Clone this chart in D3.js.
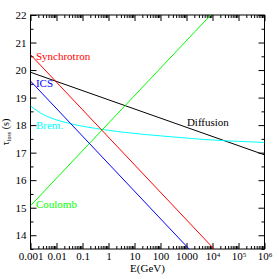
<!DOCTYPE html>
<html><head><meta charset="utf-8">
<script src="https://cdn.jsdelivr.net/npm/d3@7"></script>
<style>body{margin:0;background:#fff}svg{display:block}svg text{font-family:'Liberation Serif',serif}</style>
</head><body>
<script>
// Energy in GeV, tau_loss in log10(s)
const synchE = [0.001, 1e6];
const synchT = [20.56, 11.56];
const icsE = [0.001, 1e6];
const icsT = [19.60, 10.60];
const coulE = [0.001, 1e6];
const coulT = [15.07, 24.07];
const diffE = [0.001, 1e6];
const diffT = [19.92, 16.92];
const bremE = [1e-3, 3.16e-3, 1e-2, 3.16e-2, 1e-1, 3.16e-1, 1, 3.16, 10, 31.6, 100, 316, 1e3, 3.16e3, 1e4, 3.16e4, 1e5, 3.16e5, 1e6];
const bremT = [18.70, 18.38, 18.19, 18.06, 17.96, 17.88, 17.81, 17.75, 17.70, 17.65, 17.61, 17.57, 17.53, 17.49, 17.46, 17.43, 17.41, 17.39, 17.37];
const xTicks = [0.001, 0.01, 0.1, 1, 10, 100, 1000, 1e4, 1e5, 1e6];
const xTickLabels = ["0.001", "0.01", "0.1", "1", "10", "100", "1000", "10^4", "10^5", "10^6"];
const yTicks = [14, 15, 16, 17, 18, 19, 20, 21, 22];
const labels = [
  {text: "Synchrotron", E: 0.00162, t: 20.36, color: "#ff0000"},
  {text: "ICS", E: 0.00162, t: 19.38, color: "#0000ff"},
  {text: "Brem.", E: 0.00162, t: 17.855, color: "#00ffff"},
  {text: "Coulomb", E: 0.00162, t: 14.98, color: "#00ff00"},
  {text: "Diffusion", E: 1035, t: 17.96, color: "#000000"}
];

const W = 279, H = 279;
const L = 30.5, R = 264.5, T = 15, B = 249;
const svg = d3.select("body").append("svg").attr("width", W).attr("height", H);
const x = d3.scaleLog().domain([0.001, 1e6]).range([L, R]);
const y = d3.scaleLinear().domain([13.5, 22]).range([B, T]);
const font = "'Liberation Serif', serif";

svg.append("defs").append("clipPath").attr("id", "clip")
  .append("rect").attr("x", L).attr("y", T).attr("width", R - L).attr("height", B - T);

const minorX = [];
for (let d = -3; d < 6; d++) for (let k = 2; k <= 9; k++) minorX.push(k * Math.pow(10, d));
const minorY = d3.range(13.5, 22.01, 0.5).filter(v => !yTicks.includes(v));

function styleAxis(g) {
  g.select(".domain").remove();
  g.selectAll("line").attr("stroke", "#000").attr("stroke-width", 1);
  g.selectAll("text").attr("font-family", font).attr("font-size", 11).attr("fill", "#000");
}

// bottom axis
const gb = svg.append("g").attr("transform", `translate(0,${B})`)
  .call(d3.axisBottom(x).tickValues(xTicks).tickSizeInner(-6).tickSizeOuter(0).tickPadding(3)
    .tickFormat((d, i) => xTickLabels[i]));
styleAxis(gb);
gb.selectAll(".tick text").each(function(d, i) {
  const s = xTickLabels[i];
  if (s.includes("^")) {
    const [b, e] = s.split("^");
    const t = d3.select(this).text(null);
    t.append("tspan").text(b);
    t.append("tspan").attr("font-size", 7).attr("dy", "-0.45em").text(e);
  }
});
styleAxis(svg.append("g").attr("transform", `translate(0,${B})`)
  .call(d3.axisBottom(x).tickValues(minorX).tickSizeInner(-3).tickSizeOuter(0).tickFormat("")));
// top axis
styleAxis(svg.append("g").attr("transform", `translate(0,${T})`)
  .call(d3.axisTop(x).tickValues(xTicks).tickSizeInner(-6).tickSizeOuter(0).tickFormat("")));
styleAxis(svg.append("g").attr("transform", `translate(0,${T})`)
  .call(d3.axisTop(x).tickValues(minorX).tickSizeInner(-3).tickSizeOuter(0).tickFormat("")));
// left axis
styleAxis(svg.append("g").attr("transform", `translate(${L},0)`)
  .call(d3.axisLeft(y).tickValues(yTicks).tickSizeInner(-6).tickSizeOuter(0).tickPadding(4).tickFormat(d3.format("d"))));
styleAxis(svg.append("g").attr("transform", `translate(${L},0)`)
  .call(d3.axisLeft(y).tickValues(minorY).tickSizeInner(-3).tickSizeOuter(0).tickFormat("")));
// right axis
styleAxis(svg.append("g").attr("transform", `translate(${R},0)`)
  .call(d3.axisRight(y).tickValues(yTicks).tickSizeInner(-6).tickSizeOuter(0).tickFormat("")));
styleAxis(svg.append("g").attr("transform", `translate(${R},0)`)
  .call(d3.axisRight(y).tickValues(minorY).tickSizeInner(-3).tickSizeOuter(0).tickFormat("")));

// frame
svg.append("rect").attr("x", L).attr("y", T).attr("width", R - L).attr("height", B - T)
  .attr("fill", "none").attr("stroke", "#000").attr("stroke-width", 1);

const series = [
  {E: diffE, t: diffT, color: "#000000", curve: d3.curveLinear},
  {E: bremE, t: bremT, color: "#00ffff", curve: d3.curveMonotoneX},
  {E: coulE, t: coulT, color: "#00ff00", curve: d3.curveLinear},
  {E: icsE, t: icsT, color: "#0000ff", curve: d3.curveLinear},
  {E: synchE, t: synchT, color: "#ff0000", curve: d3.curveLinear}
];
const plot = svg.append("g").attr("clip-path", "url(#clip)");
series.forEach(s => {
  const pts = s.E.map((e, i) => [e, s.t[i]]);
  plot.append("path").datum(pts)
    .attr("d", d3.line().x(d => x(d[0])).y(d => y(d[1])).curve(s.curve))
    .attr("fill", "none").attr("stroke", s.color).attr("stroke-width", 1);
});

labels.forEach(l => {
  svg.append("text").attr("x", x(l.E)).attr("y", y(l.t))
    .attr("font-family", font).attr("font-size", 11).attr("fill", l.color).text(l.text);
});

// axis titles
svg.append("text").attr("x", (L + R) / 2).attr("y", 272).attr("text-anchor", "middle")
  .attr("font-family", font).attr("font-size", 11).text("E(GeV)");
const yl = svg.append("text").attr("transform", `translate(8.5,${(T + B) / 2}) rotate(-90)`)
  .attr("text-anchor", "middle").attr("font-family", font).attr("font-size", 10);
yl.append("tspan").text("τ");
yl.append("tspan").attr("font-size", 6).attr("dy", 2).text("loss");
yl.append("tspan").attr("dy", -2).text(" (s)");
</script>
</body></html>
